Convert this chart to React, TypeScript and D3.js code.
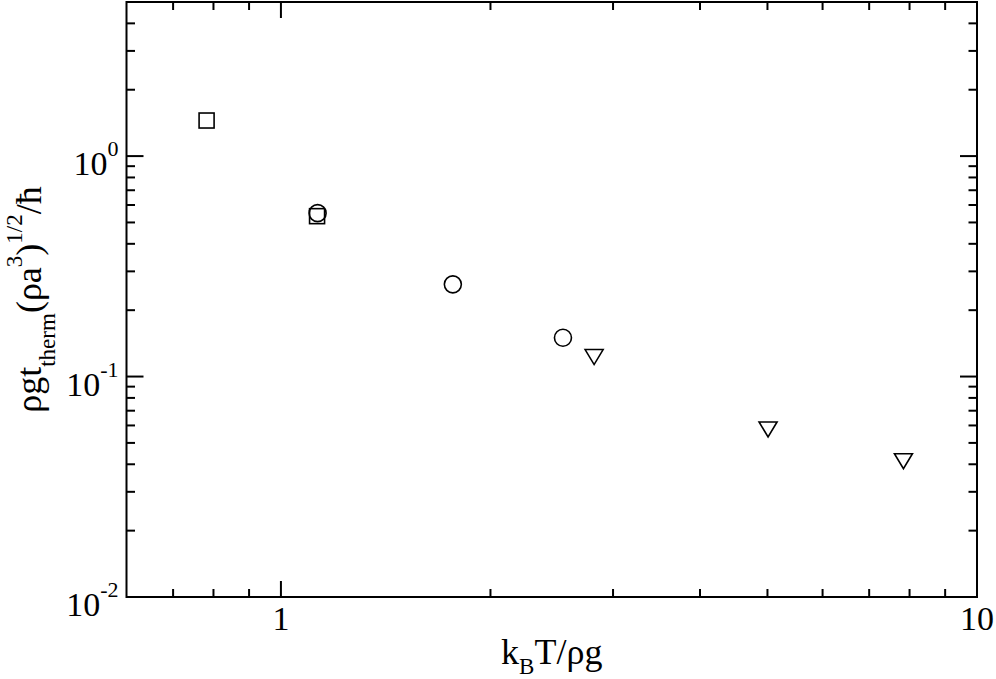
import React from "react";
import * as d3 from "d3";

const squareX = [0.782, 1.127];
const squareY = [1.45, 0.534];
const circleX = [1.129, 1.766, 2.542];
const circleY = [0.551, 0.262, 0.15];
const triangleX = [2.818, 5.01, 7.84];
const triangleY = [0.1226, 0.0575, 0.0413];

const xMajor = [1, 10];
const xMinor = [0.7, 0.8, 0.9, 2, 3, 4, 5, 6, 7, 8, 9];
const yMajor = [0.01, 0.1, 1];
const yMajorExp = ["-2", "-1", "0"];
const yMinor = [0.02, 0.03, 0.04, 0.05, 0.06, 0.07, 0.08, 0.09, 0.2, 0.3, 0.4, 0.5, 0.6, 0.7, 0.8, 0.9, 2, 3, 4];

const W = 996;
const H = 679;
const L = 126.5;
const R = 977;
const T = 2;
const B = 597;
const FONT = "'Liberation Serif', 'Times New Roman', serif";

export default function App() {
  const x = d3.scaleLog().domain([0.6, 10]).range([L, R]);
  const y = d3.scaleLog().domain([0.01, 5]).range([B, T]);
  const triPath = d3.line()([[-9, -7.5], [9, -7.5], [0, 7.5]]) + "Z";
  const sw = 2;
  return (
    <svg width={W} height={H} style={{ position: "absolute", left: 0, top: 0, background: "#fff" }}>
      <rect x={0} y={0} width={W} height={H} fill="#fff" />
      <g stroke="#000" strokeWidth={sw}>
        {xMajor.map((v, i) => (
          <g key={"xM" + i}>
            <line x1={x(v)} x2={x(v)} y1={B} y2={B - 16} />
            <line x1={x(v)} x2={x(v)} y1={T} y2={T + 16} />
          </g>
        ))}
        {xMinor.map((v, i) => (
          <g key={"xm" + i}>
            <line x1={x(v)} x2={x(v)} y1={B} y2={B - 8} />
            <line x1={x(v)} x2={x(v)} y1={T} y2={T + 8} />
          </g>
        ))}
        {yMajor.map((v, i) => (
          <g key={"yM" + i}>
            <line x1={L} x2={L + 17} y1={y(v)} y2={y(v)} />
            <line x1={R} x2={R - 17} y1={y(v)} y2={y(v)} />
          </g>
        ))}
        {yMinor.map((v, i) => (
          <g key={"ym" + i}>
            <line x1={L} x2={L + 8.5} y1={y(v)} y2={y(v)} />
            <line x1={R} x2={R - 8.5} y1={y(v)} y2={y(v)} />
          </g>
        ))}
      </g>
      <rect x={L} y={T} width={R - L} height={B - T} fill="none" stroke="#000" strokeWidth={sw} />
      <g fontFamily={FONT} fill="#000">
        {xMajor.map((v, i) => (
          <text key={"xl" + i} x={x(v)} y={B + 33} fontSize={34} textAnchor="middle">
            {String(v)}
          </text>
        ))}
        {yMajor.map((v, i) => (
          <text key={"yl" + i} x={L - 8} y={y(v) + 19} fontSize={34} textAnchor="end">
            10
            <tspan fontSize={22} dy={-19}>{yMajorExp[i]}</tspan>
          </text>
        ))}
      </g>
      <text x={(L + R) / 2} y={664} fontFamily={FONT} fontSize={36} textAnchor="middle">
        k<tspan fontSize={23} dy={10}>B</tspan>
        <tspan dy={-10}>T/ρg</tspan>
      </text>
      <text
        transform={`translate(41,${(T + B) / 2}) rotate(-90)`}
        fontFamily={FONT}
        fontSize={36}
        textAnchor="middle"
      >
        ρgt<tspan fontSize={23} dy={14}>therm</tspan>
        <tspan dy={-14}>(ρa</tspan>
        <tspan fontSize={23} dy={-19}>3</tspan>
        <tspan dy={19}>)</tspan>
        <tspan fontSize={23} dy={-19}>1/2</tspan>
        <tspan dy={19}>/ħ</tspan>
      </text>
      <g fill="none" stroke="#000" strokeWidth={1.6}>
        {squareX.map((v, i) => (
          <rect key={"s" + i} x={x(v) - 7.5} y={y(squareY[i]) - 7.5} width={15} height={15} />
        ))}
        {circleX.map((v, i) => (
          <circle key={"c" + i} cx={x(v)} cy={y(circleY[i])} r={8.5} />
        ))}
        {triangleX.map((v, i) => (
          <path key={"t" + i} d={triPath} transform={`translate(${x(v)},${y(triangleY[i])})`} />
        ))}
      </g>
    </svg>
  );
}
